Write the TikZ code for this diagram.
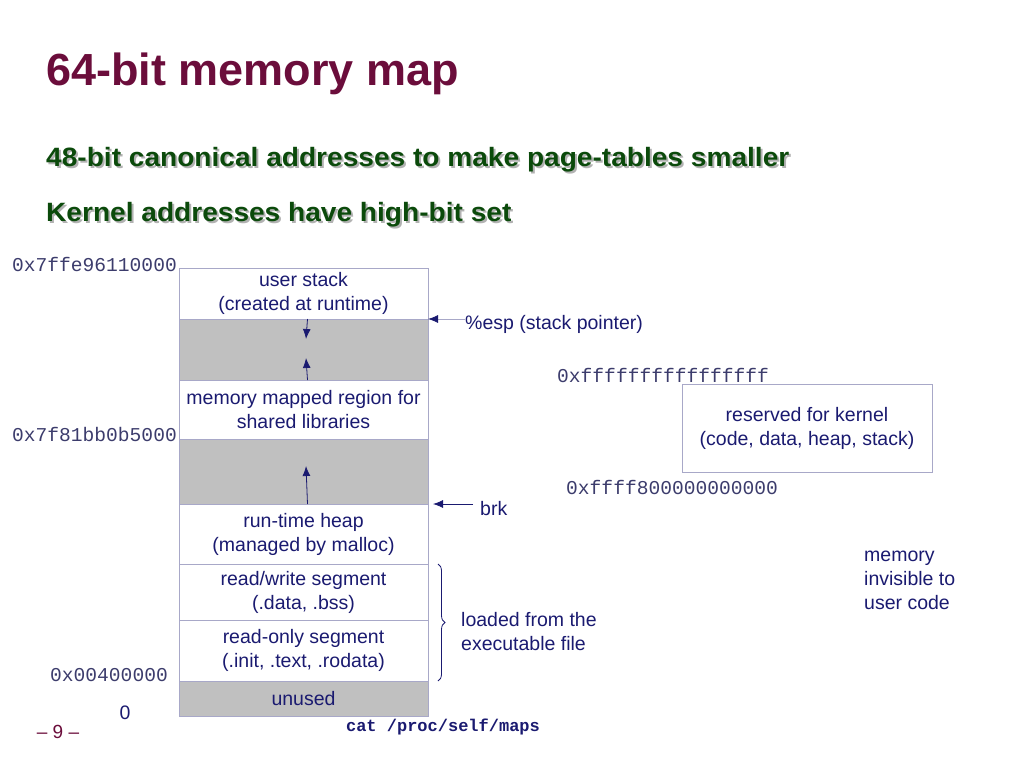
\documentclass[tikz,border=0pt]{standalone}
\usepackage{fontspec}
\setmainfont{Liberation Sans}
\setmonofont{Liberation Mono}
\newfontfamily\widebold[FakeStretch=1.06]{Liberation Sans Bold}
\usetikzlibrary{arrows.meta, positioning, decorations.pathreplacing}
\definecolor{titlered}{HTML}{6B0D3B}
\definecolor{subgreen}{HTML}{0B4A0B}
\definecolor{navy}{HTML}{1A1A70}
\definecolor{addrcol}{HTML}{3C3C6C}
\definecolor{edgecol}{HTML}{A8A8C8}
\definecolor{holecol}{HTML}{C0C0C0}
\tikzset{
  region/.style={draw=edgecol, line width=1pt, minimum width=249pt, inner sep=0pt,
    outer sep=0pt, text=navy, align=center, font=\fontsize{19.5}{24}\selectfont},
  hole/.style={region, fill=holecol},
  addr/.style={inner sep=0pt, text=addrcol, font=\fontsize{19.6}{24}\ttfamily},
  note/.style={inner sep=0pt, text=navy, align=left, font=\fontsize{19.5}{24}\selectfont},
  heading/.style={inner sep=0pt, anchor=base west, text=subgreen, font=\fontsize{26.5}{30}\widebold},
  shadow/.style={heading, text=gray!60},
  ptr/.style={draw=navy, line width=0.8pt, -{Latex[length=10pt,width=8pt,color=navy]}},
}
\begin{document}
\begin{tikzpicture}[x=1pt, y=-1pt]
\useasboundingbox (0,0) rectangle (1024,768);
% headings
\node[inner sep=0pt, anchor=base west, text=titlered, font=\fontsize{45}{50}\bfseries] (title) at (46,85) {64-bit memory map};
\node[shadow] at (48,168) {48-bit canonical addresses to make page-tables smaller};
\node[heading] (sub1) at (46,166) {48-bit canonical addresses to make page-tables smaller};
\node[shadow] at (48,223) {Kernel addresses have high-bit set};
\node[heading] (sub2) at (46,221) {Kernel addresses have high-bit set};
% the address space
\node[region, minimum height=51pt, anchor=north west] (stack) at (179,268) {user stack\\(created at runtime)};
\node[hole, minimum height=61pt, below=0pt of stack] (gapa) {};
\node[region, minimum height=59pt, below=0pt of gapa] (mmap) {memory mapped region for\\shared libraries};
\node[hole, minimum height=65pt, below=0pt of mmap] (gapb) {};
\node[region, minimum height=60pt, below=0pt of gapb] (heap) {run-time heap\\(managed by malloc)};
\node[region, minimum height=56pt, below=0pt of heap] (rw) {read/write segment\\(.data, .bss)};
\node[region, minimum height=61pt, below=0pt of rw] (ro) {read-only segment\\(.init, .text, .rodata)};
\node[hole, minimum height=35pt, below=0pt of ro] (unused) {unused};
% growth arrows
\coordinate (stackdn) at (306,339);
\coordinate (mmapup) at (306,358);
\coordinate (heapup) at (306,466);
\draw[ptr] ([xshift=4pt]stack.south) -- (stackdn);
\draw[ptr] ([xshift=4pt]mmap.north) -- (mmapup);
\draw[ptr] ([xshift=4pt]heap.north) -- (heapup);
% addresses
\node[addr, anchor=east] (atop) at (177,264) {0x7ffe96110000};
\node[addr, anchor=east] (ammap) at (177,434) {0x7f81bb0b5000};
\node[addr, anchor=east] (atext) at (168,675) {0x00400000};
\node[note, anchor=center] (azero) at (125,713) {0};
% pointers
\node[note, anchor=west] (esp) at (465,324) {\%esp (stack pointer)};
\draw[ptr, draw=edgecol] (stack.south east -| esp.west) -- (stack.south east);
\node[note, anchor=west] (brk) at (480,509) {brk};
\coordinate (brkend) at (473,504);
\draw[ptr] (brkend) -- ([xshift=5pt]heap.north east);
% loaded segments
\draw[draw=navy, line width=0.8pt, decorate, decoration={brace, amplitude=7pt}]
  ([xshift=10pt]rw.north east) -- ([xshift=10pt]ro.south east);
\node[note, anchor=north west] (loaded) at (461,612) {loaded from the\\executable file};
% kernel
\node[addr, anchor=west] (khigh) at (557,375) {0xffffffffffffffff};
\node[region, minimum width=250pt, minimum height=88pt, anchor=north west] (kernel) at (682,384) {reserved for kernel\\(code, data, heap, stack)};
\node[addr, anchor=west] (klow) at (566,487) {0xffff800000000000};
\node[note, anchor=north west] (invis) at (864,551) {memory\\invisible to\\user code};
% footer
\node[inner sep=0pt, text=navy, font=\fontsize{17}{20}\ttfamily\bfseries] (cat) at (443,727) {cat /proc/self/maps};
\node[inner sep=0pt, text=titlered, font=\fontsize{19}{20}\selectfont] (page) at (58,732) {-- 9 --};
\end{tikzpicture}
\end{document}
